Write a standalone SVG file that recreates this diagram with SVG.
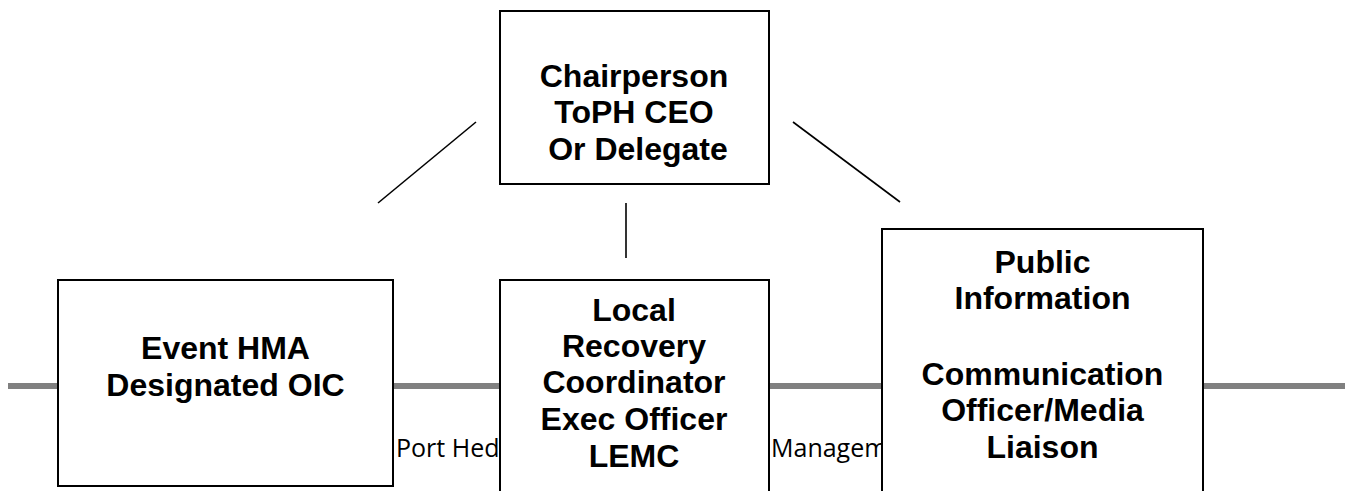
<svg xmlns="http://www.w3.org/2000/svg" width="1351" height="491" viewBox="0 0 1351 491">
<style>
.box{fill:#fff;stroke:#000;stroke-width:2}
.lbl{font-family:"Liberation Sans",Arial,sans-serif;font-weight:bold;font-size:32px;fill:#000;text-anchor:middle}
.foot{font-family:"Open Sans","Liberation Sans",sans-serif;font-size:25px;fill:#000}
.conn{stroke:#000;stroke-width:1.6;fill:none}
</style>
<rect width="1351" height="491" fill="#fff"/>
<g id="page-rule">
<line x1="8" y1="386" x2="1345" y2="386" stroke="#808080" stroke-width="6"/>
<text class="foot" x="396" y="457">Port Hed</text>
<text class="foot" x="771" y="457">Managem</text>
</g>
<g id="connectors">
<line class="conn" x1="476" y1="122" x2="378" y2="203"/>
<line class="conn" x1="626" y1="203" x2="626" y2="258"/>
<line class="conn" x1="793" y1="122" x2="900" y2="202"/>
</g>
<g id="chair">
<rect class="box" x="500" y="11" width="269" height="173"/>
<text class="lbl" x="634" y="87">Chairperson</text>
<text class="lbl" x="634" y="123">ToPH CEO</text>
<text class="lbl" x="638" y="160">Or Delegate</text>
</g>
<g id="event-hma">
<rect class="box" x="58" y="280" width="335" height="206"/>
<text class="lbl" x="225.5" y="359">Event HMA</text>
<text class="lbl" x="225.5" y="396">Designated OIC</text>
</g>
<g id="recovery">
<rect class="box" x="500" y="280" width="269" height="230"/>
<text class="lbl" x="634" y="321">Local</text>
<text class="lbl" x="634" y="357">Recovery</text>
<text class="lbl" x="634" y="393">Coordinator</text>
<text class="lbl" x="634" y="430">Exec Officer</text>
<text class="lbl" x="634" y="467">LEMC</text>
</g>
<g id="public-info">
<rect class="box" x="882" y="229" width="321" height="281"/>
<text class="lbl" x="1042.5" y="273">Public</text>
<text class="lbl" x="1042.5" y="309">Information</text>
<text class="lbl" x="1042.5" y="385">Communication</text>
<text class="lbl" x="1042.5" y="421">Officer/Media</text>
<text class="lbl" x="1042.5" y="458">Liaison</text>
</g>
</svg>
